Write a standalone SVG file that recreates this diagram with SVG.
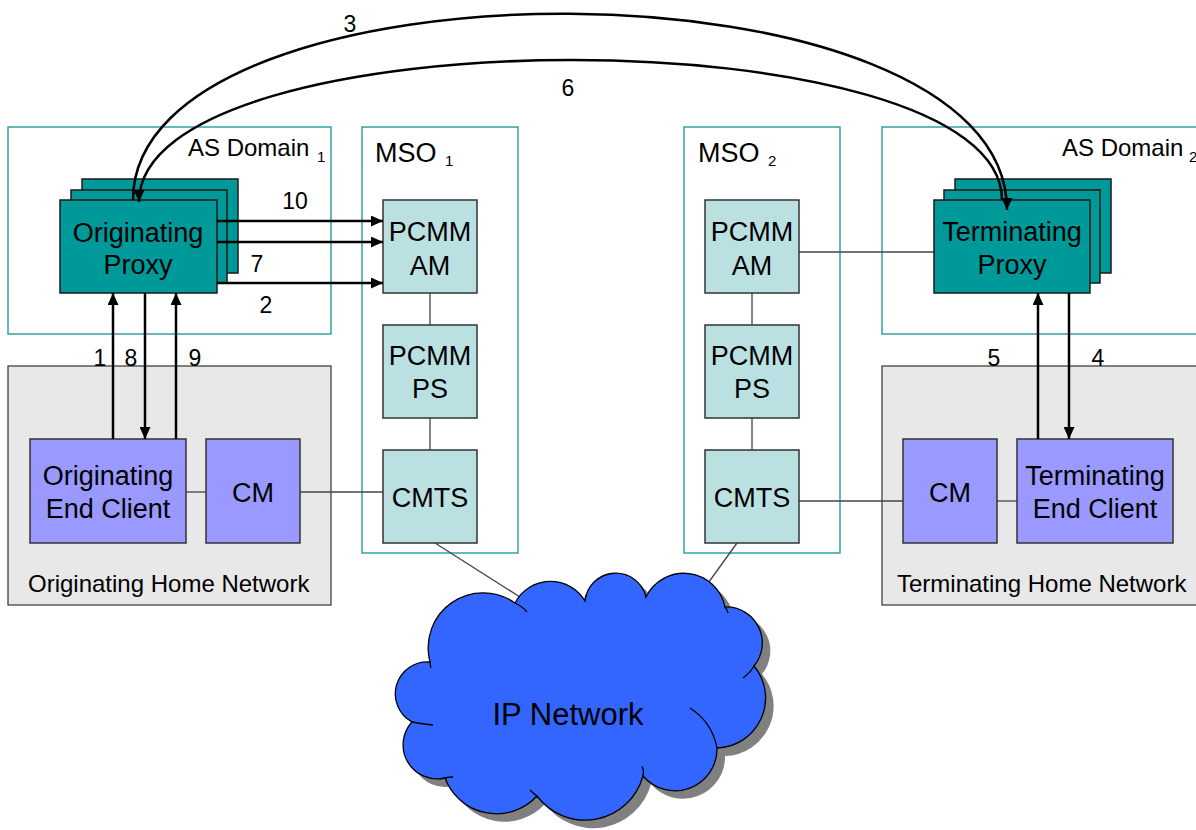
<svg xmlns="http://www.w3.org/2000/svg" width="1196" height="830" viewBox="0 0 1196 830">
<defs>
<style>
text{font-family:"Liberation Sans",Arial,sans-serif;fill:#000}
.dom{fill:#fff;stroke:#33a3a3;stroke-width:1.5}
.home{fill:#e8e8e8;stroke:#333;stroke-width:1.2}
.proxy{fill:#009999;stroke:#1a1a1a;stroke-width:1.5}
.pcmm{fill:#bbe0e2;stroke:#333;stroke-width:1.5}
.cli{fill:#9999ff;stroke:#333;stroke-width:1.5}
.thin{stroke:#444;stroke-width:1.3;fill:none}
.arr{stroke:#000;stroke-width:2.5;fill:none;marker-end:url(#ah)}
.big{font-size:27px;text-anchor:middle}
.num{font-size:23px;text-anchor:middle}
.lbl{font-size:24px}
.sub{font-size:15px}
</style>
<marker id="ah" markerUnits="userSpaceOnUse" markerWidth="13" markerHeight="11" refX="12" refY="5.5" orient="auto">
<path d="M0,0 L12,5.5 L0,11 z" fill="#000"/>
</marker>
</defs>
<rect width="1196" height="830" fill="#fff"/>

<g id="as-domain-1"><rect class="dom" x="8" y="127" width="323" height="207"/>
<text class="lbl" x="188" y="156">AS Domain</text><text class="sub" x="317" y="162" font-size="14">1</text></g>
<g id="mso-1"><rect class="dom" x="362" y="127" width="156" height="426"/>
<text x="375" y="162" font-size="27">MSO</text><text class="sub" x="445" y="166">1</text></g>
<g id="mso-2"><rect class="dom" x="684" y="127" width="156" height="426"/>
<text x="698" y="162" font-size="27">MSO</text><text class="sub" x="768" y="166">2</text></g>
<g id="as-domain-2"><rect class="dom" x="882" y="127" width="330" height="207"/>
<text class="lbl" x="1062" y="156">AS Domain</text><text class="sub" x="1189" y="162" font-size="14">2</text></g>
<g id="orig-home"><rect class="home" x="8" y="366" width="323" height="239"/>
<text class="lbl" x="28" y="592">Originating Home Network</text></g>
<g id="term-home"><rect class="home" x="882" y="366" width="330" height="239"/>
<text class="lbl" x="897" y="592">Terminating Home Network</text></g>

<g id="connectors-thin">
<line class="thin" x1="186" y1="492" x2="206" y2="492"/>
<line class="thin" x1="300" y1="492" x2="383" y2="492"/>
<line class="thin" x1="430" y1="293" x2="430" y2="325"/>
<line class="thin" x1="430" y1="418" x2="430" y2="450"/>
<line class="thin" x1="752" y1="293" x2="752" y2="325"/>
<line class="thin" x1="752" y1="418" x2="752" y2="450"/>
<line class="thin" x1="799" y1="252" x2="934" y2="252"/>
<line class="thin" x1="799" y1="501" x2="903" y2="501"/>
<line class="thin" x1="997" y1="501" x2="1017" y2="501"/>
<line class="thin" x1="435" y1="543" x2="520" y2="597"/>
<line class="thin" x1="737" y1="543" x2="706" y2="586"/>
</g>

<g id="orig-proxy">
<rect class="proxy" x="82" y="179" width="156" height="94"/>
<rect class="proxy" x="71" y="190" width="156" height="93"/>
<rect class="proxy" x="60" y="200" width="157" height="93"/>
<text class="big" x="138" y="242">Originating</text><text class="big" x="138" y="274">Proxy</text></g>
<g id="term-proxy">
<rect class="proxy" x="955" y="179" width="156" height="94"/>
<rect class="proxy" x="944" y="190" width="156" height="93"/>
<rect class="proxy" x="934" y="200" width="156" height="93"/>
<text class="big" x="1012" y="241">Terminating</text><text class="big" x="1012" y="274">Proxy</text></g>

<g id="pcmm-am-1"><rect class="pcmm" x="383" y="200" width="94" height="93"/>
<text class="big" x="430" y="241">PCMM</text><text class="big" x="430" y="275">AM</text></g>
<g id="pcmm-ps-1"><rect class="pcmm" x="383" y="325" width="94" height="93"/>
<text class="big" x="430" y="365">PCMM</text><text class="big" x="430" y="398">PS</text></g>
<g id="cmts-1"><rect class="pcmm" x="383" y="450" width="94" height="93"/>
<text class="big" x="430" y="507">CMTS</text></g>
<g id="pcmm-am-2"><rect class="pcmm" x="705" y="200" width="94" height="93"/>
<text class="big" x="752" y="241">PCMM</text><text class="big" x="752" y="275">AM</text></g>
<g id="pcmm-ps-2"><rect class="pcmm" x="705" y="325" width="94" height="93"/>
<text class="big" x="752" y="365">PCMM</text><text class="big" x="752" y="398">PS</text></g>
<g id="cmts-2"><rect class="pcmm" x="705" y="450" width="94" height="93"/>
<text class="big" x="752" y="507">CMTS</text></g>

<g id="orig-client"><rect class="cli" x="30" y="439" width="156" height="104"/>
<text class="big" x="108" y="485">Originating</text><text class="big" x="108" y="518">End Client</text></g>
<g id="orig-cm"><rect class="cli" x="206" y="439" width="94" height="104"/>
<text class="big" x="253" y="502">CM</text></g>
<g id="term-cm"><rect class="cli" x="903" y="439" width="94" height="104"/>
<text class="big" x="950" y="502">CM</text></g>
<g id="term-client"><rect class="cli" x="1017" y="439" width="156" height="104"/>
<text class="big" x="1095" y="485">Terminating</text><text class="big" x="1095" y="518">End Client</text></g>

<g id="ip-network">
<path transform="translate(8,8)" fill="#808080" d="M430 662 A55 55 0 0 1 515 603 A40 40 0 0 1 585 601 A31 31 0 0 1 646 597 A42 42 0 0 1 725 607 A36 36 0 0 1 754 666 A50 50 0 0 1 717 748 A42 42 0 0 1 643 776 A60 60 0 0 1 537 796 A55 55 0 0 1 445 778 A34 34 0 0 1 412 722 A32 32 0 0 1 430 662 Z"/>
<path fill="#3366ff" stroke="#000" stroke-width="1.3" d="M430 662 A55 55 0 0 1 515 603 A40 40 0 0 1 585 601 A31 31 0 0 1 646 597 A42 42 0 0 1 725 607 A36 36 0 0 1 754 666 A50 50 0 0 1 717 748 A42 42 0 0 1 643 776 A60 60 0 0 1 537 796 A55 55 0 0 1 445 778 A34 34 0 0 1 412 722 A32 32 0 0 1 430 662 Z"/>
<path fill="none" stroke="#000" stroke-width="1.3" d="M515 603 Q522 606 527 612 M725 607 Q727 609 728 613 M754 666 Q750 673 743 678 M690 708 Q712 722 717 748 M643 776 Q644 770 642 766 M537 796 Q533 793 530 790 M445 778 Q449 777 453 777 M412 722 Q422 724 433 725 M430 662 Q430 665 431 668 M585 601 Q585 598 586 595"/>
<text x="568" y="725" font-size="31" text-anchor="middle">IP Network</text>
</g>

<g id="connectors">
<path class="arr" d="M133 200 C133 -50 1007 -50 1007 210"/>
<path class="arr" d="M1002 200 C1002 13 139 13 139 202"/>
<line class="arr" x1="217" y1="221" x2="383" y2="221"/>
<line class="arr" x1="217" y1="242" x2="383" y2="242"/>
<line class="arr" x1="217" y1="283" x2="383" y2="283"/>
<line class="arr" x1="113" y1="439" x2="113" y2="293"/>
<line class="arr" x1="145" y1="293" x2="145" y2="439"/>
<line class="arr" x1="176" y1="439" x2="176" y2="293"/>
<line class="arr" x1="1038" y1="439" x2="1038" y2="293"/>
<line class="arr" x1="1069" y1="293" x2="1069" y2="439"/>
<text class="num" x="350" y="32">3</text>
<text class="num" x="568" y="96">6</text>
<text class="num" x="295" y="209">10</text>
<text class="num" x="257" y="272">7</text>
<text class="num" x="266" y="313">2</text>
<text class="num" x="100" y="366">1</text>
<text class="num" x="131" y="366">8</text>
<text class="num" x="195" y="366">9</text>
<text class="num" x="994" y="366">5</text>
<text class="num" x="1098" y="366">4</text>
</g>
</svg>
